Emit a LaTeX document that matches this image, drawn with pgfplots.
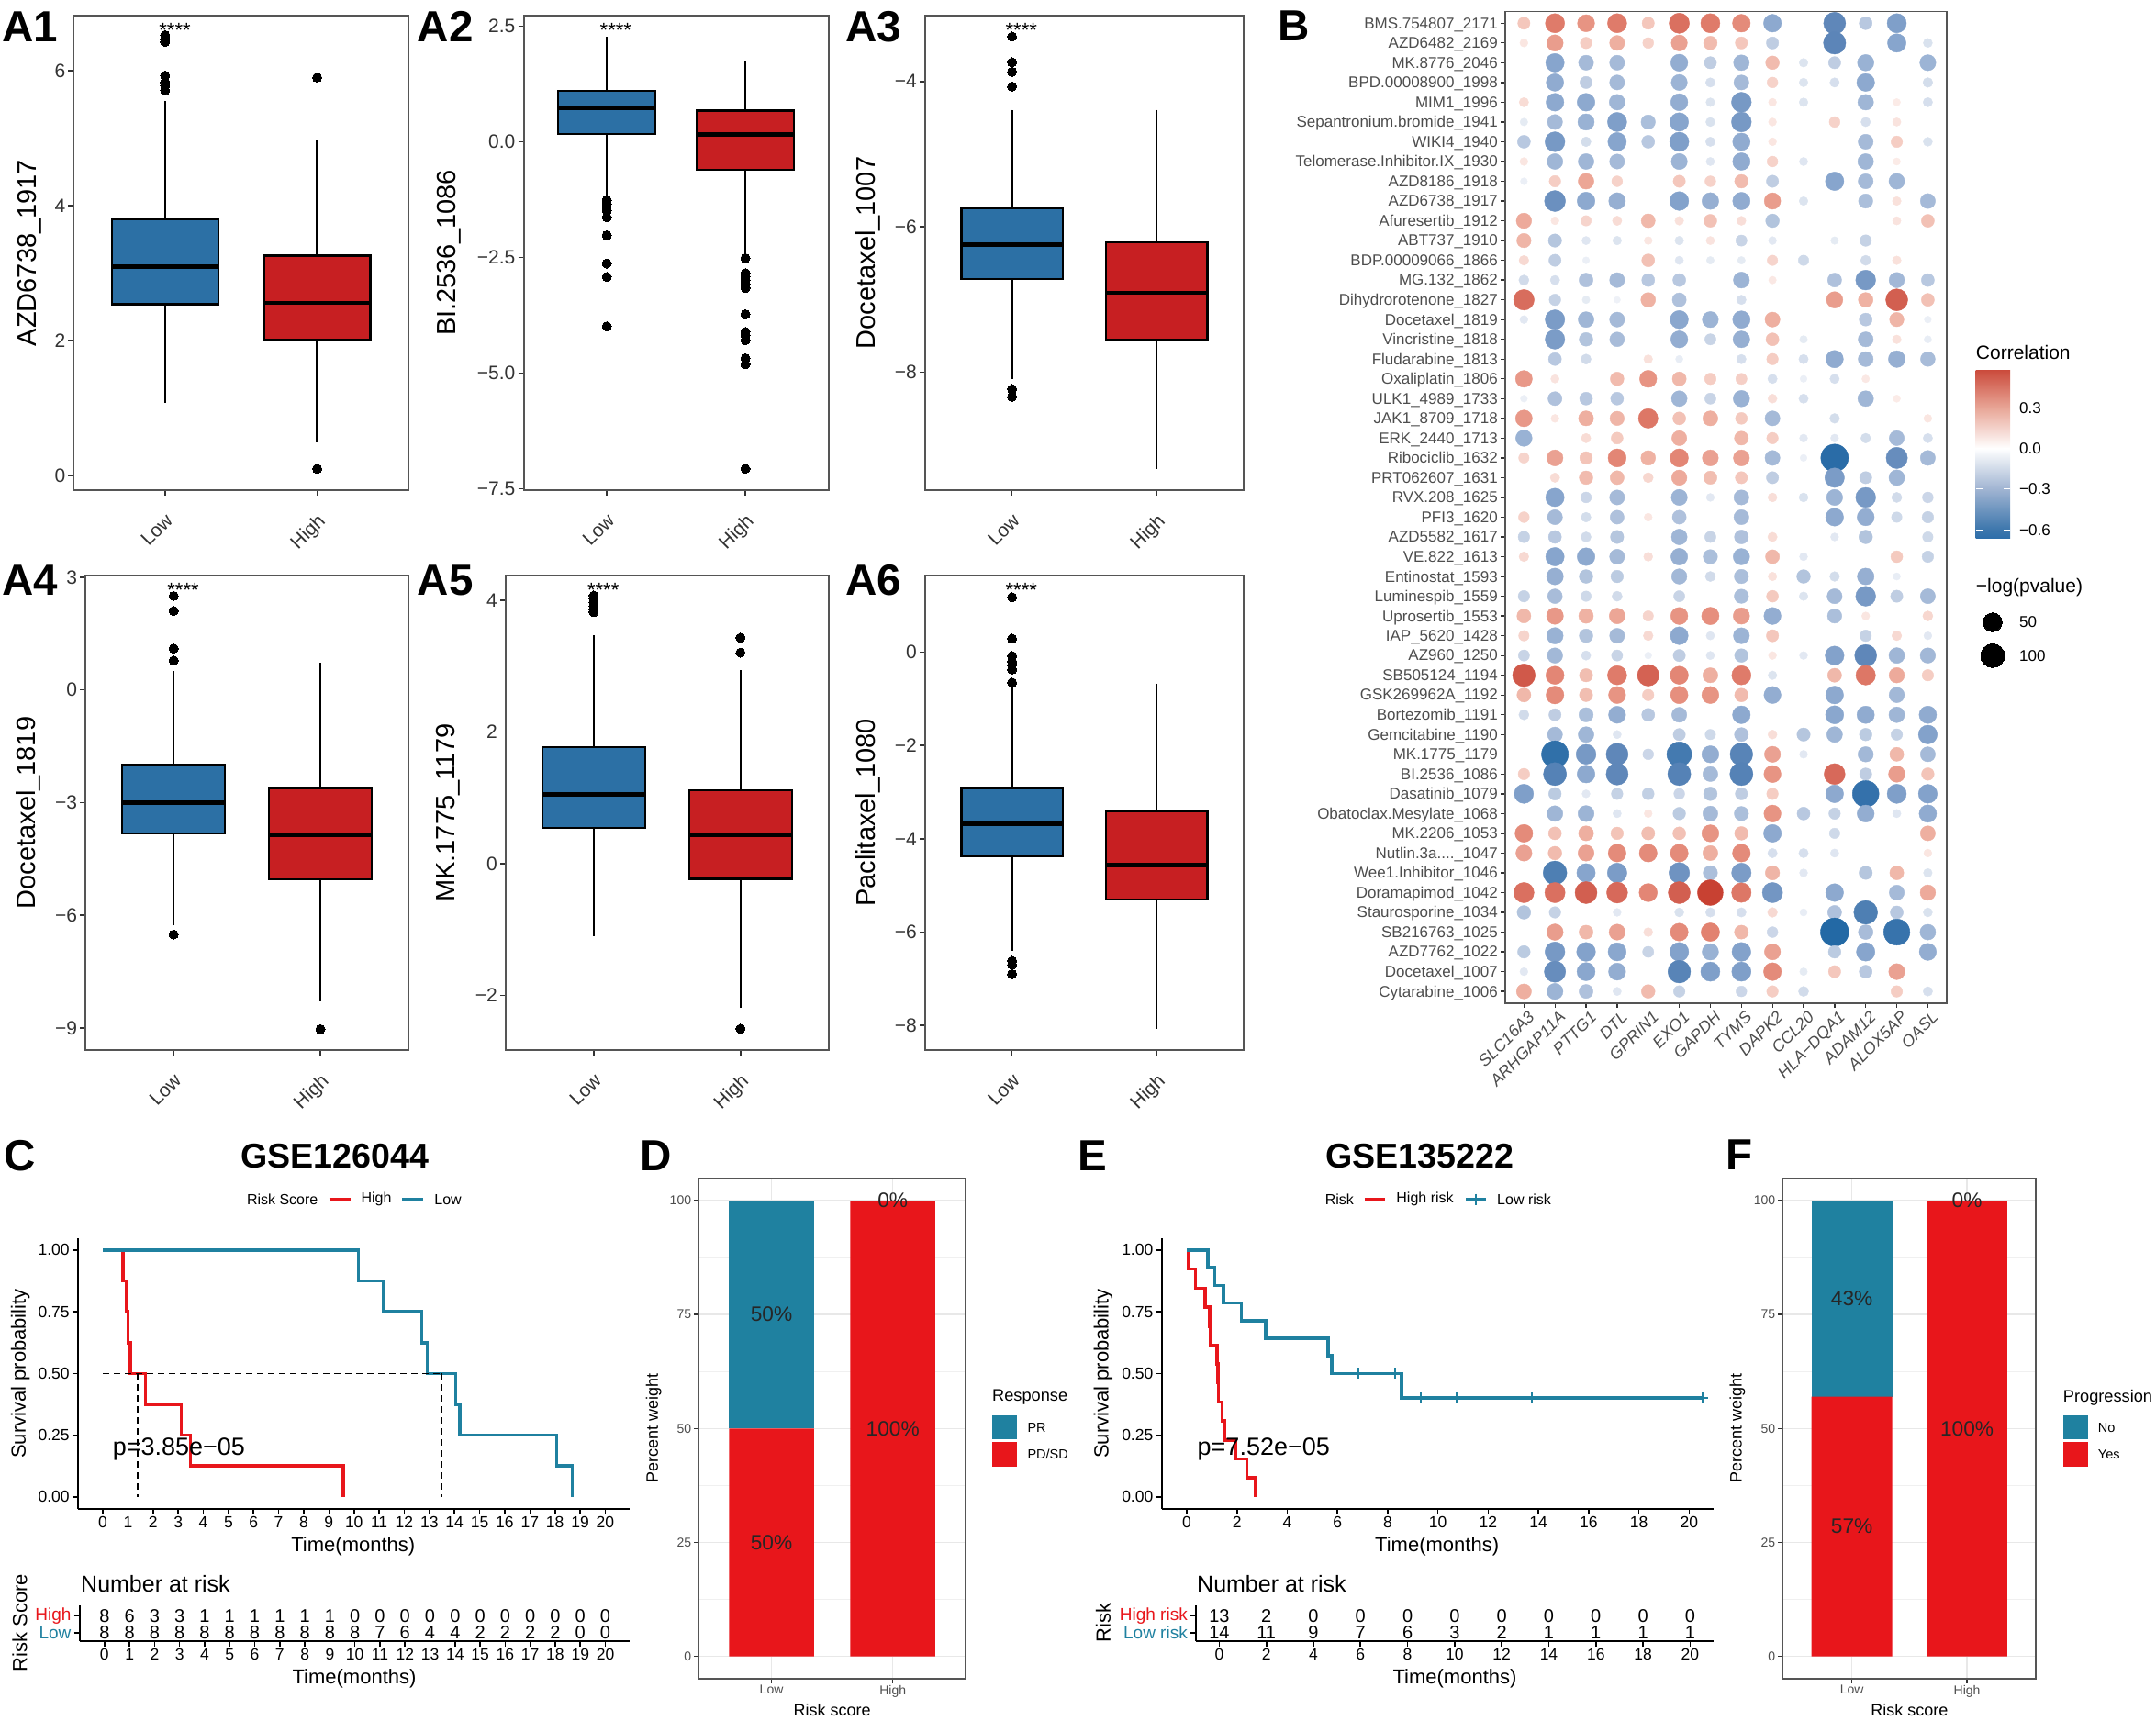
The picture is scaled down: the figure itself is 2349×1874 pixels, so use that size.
\documentclass[border=0pt]{standalone}
\usepackage{fontspec}
\setmainfont{Liberation Sans}
\usepackage{pgfplots}
\usepackage{pgfplotstable}
\pgfplotsset{compat=1.18}
\usepgfplotslibrary{statistics}

% 1 reference pixel = 1pt
\newcommand{\fs}[1]{\fontsize{#1}{#1}\selectfont}
\definecolor{boxblue}{HTML}{2C70A5}
\definecolor{boxred}{HTML}{C71F22}
\definecolor{kmred}{HTML}{E8161B}
\definecolor{kmteal}{HTML}{1F81A0}
\definecolor{c3}{HTML}{333333}
\definecolor{c4}{HTML}{4D4D4D}
\definecolor{frameg}{HTML}{555555}
\definecolor{sb0}{RGB}{45,110,170}
\definecolor{sb1}{RGB}{60,118,172}
\definecolor{sb2}{RGB}{160,180,210}
\definecolor{sb3}{RGB}{232,165,150}
\definecolor{sb4}{RGB}{203,75,60}
% \shade shows only 25bp to 75bp of the declared range
\pgfdeclareverticalshading{corrbar}{100bp}{color(0bp)=(sb0); color(25bp)=(sb0); color(27.6bp)=(sb1); color(39.65bp)=(sb2); color(51.75bp)=(white); color(63.85bp)=(sb3); color(75bp)=(sb4); color(100bp)=(sb4)}

\tikzset{barpct/.style={font=\fs{22.7}, text=black!85}}
\pgfplotsset{
  boxax/.style={scale only axis, anchor=south west, xmin=0.4, xmax=2.6,
    xtick={1,2}, xticklabels={Low,High}, clip=false,
    xticklabel style={rotate=45, anchor=north east, font=\fs{21}, text=c3, inner sep=2pt, xshift=-11.4pt, yshift=-10.25pt},
    yticklabel style={font=\fs{21}, text=c3, inner sep=3pt},
    tick align=outside, major tick length=6pt, tick style={c3, line width=1.6pt},
    xtick pos=bottom, ytick pos=left,
    axis line style={frameg, line width=2pt},
    ylabel style={font=\fs{29}, anchor=center}},
  kmax/.style={scale only axis, anchor=south west, axis x line=bottom, axis y line=left,
    axis line style={-, line width=2pt}, tick align=outside, major tick length=6pt,
    tick style={black, line width=1.6pt}, clip=false,
    xticklabel style={font=\fs{17.5}, inner sep=2pt},
    yticklabel style={font=\fs{17.5}, inner sep=3pt},
    xlabel style={font=\fs{22}, anchor=center},
    ylabel style={font=\fs{22}, anchor=center}},
  kmline/.style={line width=3.6pt, const plot, mark=none, #1},
  kmdash/.style={black, line width=1.7pt, dash pattern=on 7pt off 5pt},
  riskn/.style={draw=none, mark=none, point meta=explicit symbolic, nodes near coords,
    every node near coord/.style={font=\fs{20}, anchor=center, inner sep=0pt}},
  barax/.style={scale only axis, anchor=south west, ybar stacked, bar width=0.7,
    xmin=0.4, xmax=2.6, ymin=-4.87, ymax=104.87, xtick={1,2}, xticklabels={Low,High},
    ytick={0,25,50,75,100}, yticklabels={0,25,50,75,100},
    minor ytick={12.5,37.5,62.5,87.5}, grid=both,
    major grid style={gray!18, line width=1.4pt}, minor grid style={gray!12, line width=0.8pt},
    tick align=outside, major tick length=5pt, tick style={c3, line width=1.4pt},
    minor tick length=0pt, xtick pos=bottom, ytick pos=left,
    axis line style={frameg, line width=1.8pt}, clip=false,
    xticklabel style={font=\fs{14}, text=c4, inner sep=2pt},
    yticklabel style={font=\fs{14}, text=c4, inner sep=3pt},
    xlabel style={font=\fs{18}, anchor=center},
    ylabel style={font=\fs{18}, anchor=center}},
  % same limits as the bars, holds the percent texts above them
  barlabels/.style={scale only axis, anchor=south west, hide axis, clip=false,
    xmin=0.4, xmax=2.6, ymin=-4.87, ymax=104.87},
  boxst/.style n args={6}{boxplot prepared={draw direction=y, draw position=#1, lower whisker=#2, lower quartile=#3,
      median=#4, upper quartile=#5, upper whisker=#6, box extend=0.7, whisker extend=0,
      every median/.style={line width=4.6pt}},
    solid, draw=black, line width=2.2pt,
    mark=*, mark size=5pt, mark options={fill=black, draw=black, line width=0pt}}
}

% position, colour, lower whisker, q1, median, q3, upper whisker, outliers
\newcommand{\bx}[8]{%
  \addplot[boxst={#1}{#3}{#4}{#5}{#6}{#7}, fill=#2]
    table[row sep=\\, header=false, y index=0] {#8};}
% same, no outliers
\newcommand{\bxn}[7]{%
  \addplot[boxst={#1}{#3}{#4}{#5}{#6}{#7}, fill=#2] coordinates {};}
\newcommand{\stars}{\node[anchor=base, inner sep=0pt, font=\fs{22}] at (rel axis cs:0.302,0.9545) {****};}
\newcommand{\plab}[3]{\node[inner sep=0pt, anchor=base west, font=\fs{47.5}\bfseries] at (#1pt,-#2pt) {#3};}
\newcommand{\tx}[4][]{\node[inner sep=0pt, anchor=west, #1] at (#2pt,-#3pt) {#4};}

% correlation of drug (row) and gene (column), 0 = no dot
\pgfplotstableread{
c1 c2 c3 c4 c5 c6 c7 c8 c9 c10 c11 c12 c13 c14
.22 .42 .36 .42 .22 .45 .42 .38 -.38 0 -.50 -.24 -.42 0
.10 .34 .20 .30 .18 .33 .26 .22 -.22 0 -.51 0 -.40 -.13
0 -.40 -.30 -.30 0 -.36 -.22 -.32 .26 -.12 -.22 -.34 0 -.33
0 -.37 -.22 -.30 0 -.33 -.14 -.30 .18 -.12 -.14 -.38 0 -.15
.14 -.38 -.38 -.32 0 -.36 -.12 -.44 .10 -.12 0 -.32 .08 -.14
-.09 -.30 -.34 -.42 -.28 -.40 -.13 -.44 .10 0 .18 -.14 .11 0
-.24 -.44 -.15 -.40 -.24 -.42 -.14 -.37 .10 0 0 -.30 .20 -.13
.10 -.32 -.32 -.30 0 -.33 -.11 -.37 .18 -.11 0 -.32 .08 0
-.07 .20 .32 .18 0 .22 .18 .26 -.22 0 -.40 -.30 -.32 0
0 -.47 -.38 -.35 0 -.41 -.35 -.37 .34 -.12 0 -.28 .12 -.30
.31 .10 .17 .14 .27 .12 .24 .13 -.26 0 0 0 .11 .24
.28 -.25 -.11 -.12 .10 -.12 .11 -.19 -.10 0 -.09 -.20 0 0
.15 -.22 -.07 0 .24 -.11 -.09 -.09 .17 -.17 0 -.16 .12 0
-.16 -.14 -.27 -.30 -.24 -.24 0 -.33 .09 0 -.27 -.44 -.31 -.24
.46 -.20 -.09 -.06 .29 -.27 0 -.14 0 0 .34 .29 .50 .24
-.10 -.43 -.32 -.30 0 -.39 -.33 -.37 .30 0 0 -.24 .28 -.07
0 -.43 -.26 -.29 0 -.36 -.19 -.35 .24 -.09 0 -.30 .12 -.08
0 -.24 -.16 0 .12 -.08 0 -.14 .20 -.14 -.37 -.30 -.35 -.29
.35 .11 0 .26 .36 .27 .20 .19 -.14 -.07 -.14 .09 0 0
-.07 -.27 -.24 -.24 0 -.32 -.19 -.34 .13 -.14 0 -.32 .08 0
.35 .10 .30 .28 .43 .24 .30 .21 -.30 0 -.15 0 0 .10
-.34 0 .14 .21 0 .30 0 .27 .20 -.10 -.10 -.15 -.30 -.14
.17 .33 .23 .39 .29 .39 .33 .33 -.30 -.07 -.66 0 -.48 -.30
0 .14 .26 .27 .16 .31 .25 .22 -.22 0 -.43 -.22 -.32 0
0 -.40 -.18 -.30 0 -.33 -.10 -.30 .13 -.13 -.33 -.44 -.16 -.18
.18 -.30 -.15 -.27 .10 -.27 0 -.30 0 0 -.38 -.36 -.17 -.20
-.20 -.24 -.16 -.25 0 -.32 -.19 -.27 .14 0 -.10 -.26 0 -.17
.15 -.40 -.38 -.30 .13 -.35 -.28 -.34 .27 -.10 0 0 .21 -.20
0 -.35 -.26 -.23 0 -.31 -.16 -.28 .12 -.26 -.15 -.35 -.08 0
-.20 -.29 -.17 -.16 0 -.19 0 -.28 .21 -.12 -.30 -.44 -.22 -.30
.27 .35 .29 .32 .17 .36 .37 .34 -.36 0 -.28 .10 0 .16
.17 -.34 -.26 -.30 .15 -.38 -.11 -.33 .22 0 0 -.20 .15 -.10
-.19 -.31 -.14 -.19 -.07 -.22 -.11 -.26 .10 -.10 -.41 -.50 -.32 -.31
.52 .39 .25 .42 .49 .39 .30 .42 -.12 0 .27 .43 .31 .20
.27 .38 .25 .36 .20 .37 .36 .26 -.36 0 -.38 0 -.31 0
-.16 -.22 -.28 -.36 -.24 -.30 0 -.38 0 0 -.39 -.37 -.32 -.37
0 -.30 -.32 -.11 0 -.22 -.17 -.27 .13 -.25 -.32 -.23 -.20 -.41
0 -.64 -.44 -.50 -.18 -.58 -.36 -.52 .33 -.10 0 -.31 .27 -.30
.20 -.53 -.38 -.50 0 -.53 -.30 -.53 .36 0 .47 -.22 .34 .23
-.42 -.23 -.10 -.20 -.21 -.18 -.26 -.22 .20 0 -.38 -.63 -.42 -.41
0 -.32 -.33 -.11 .10 -.23 -.30 -.28 .36 -.24 -.20 -.36 -.11 -.37
.38 .24 .30 .23 .25 .24 .36 .26 -.38 0 -.17 0 0 .30
.33 .26 .33 .38 .38 .38 .30 .38 -.14 -.14 -.11 0 0 .10
0 -.55 -.40 -.43 0 -.46 -.28 -.43 .28 -.10 0 -.25 .27 -.12
.45 .45 .50 .47 .39 .50 .60 .43 -.45 0 -.38 0 -.30 .31
-.26 -.20 0 -.10 0 -.13 -.14 -.14 .15 -.08 -.27 -.55 -.24 -.13
0 .34 .27 .33 .13 .38 .40 .27 -.18 0 -.68 -.29 -.62 -.32
-.23 -.44 -.41 -.39 -.19 -.41 -.34 -.41 .33 0 -.23 -.40 0 -.36
-.10 -.48 -.39 -.36 0 -.52 -.42 -.42 .38 -.09 .22 -.24 .33 0
.30 -.33 -.27 -.11 .26 -.20 0 -.18 .20 -.16 0 0 .20 -.14
}\corr

\begin{document}
\begin{tikzpicture}
\useasboundingbox (0,0) rectangle (2349pt,-1874pt);

% ---- A1 to A6
\begin{axis}[boxax, at={(80.4pt,-533.9pt)}, width=364.6pt, height=516.7pt,
    ymin=-0.216, ymax=6.817, ytick={0,2,4,6}, yticklabels={0,2,4,6},
    ylabel={AZD6738\_1917}, ylabel style={at={(axis description cs:-0.131,0.5)}}]
  \bx{1}{boxblue}{1.08}{2.54}{3.10}{3.80}{5.56}{6.53\\6.47\\6.43\\5.93\\5.83\\5.78\\5.71\\}
  \bx{2}{boxred}{0.49}{2.02}{2.56}{3.26}{4.97}{5.90\\0.10\\}
  \stars
\end{axis}
\begin{axis}[boxax, at={(570.5pt,-533.9pt)}, width=332.2pt, height=516.7pt,
    ymin=-7.53, ymax=2.728, ytick={-7.5,-5,-2.5,0,2.5}, yticklabels={−7.5,−5.0,−2.5,0.0,2.5},
    ylabel={BI.2536\_1086}, ylabel style={at={(axis description cs:-0.246,0.5)}}]
  \bx{1}{boxblue}{-1.185}{0.167}{0.737}{1.11}{2.27}{-1.26\\-1.34\\-1.41\\-1.49\\-1.63\\-2.02\\-2.63\\-2.92\\-3.99\\}
  \bx{2}{boxred}{-2.48}{-0.61}{0.16}{0.676}{1.73}{-2.515\\-2.84\\-2.92\\-2.99\\-3.07\\-3.16\\-3.73\\-4.11\\-4.19\\-4.29\\-4.68\\-4.81\\-7.07\\}
  \stars
\end{axis}
\begin{axis}[boxax, at={(1008pt,-533.9pt)}, width=347pt, height=516.7pt,
    ymin=-9.625, ymax=-3.096, ytick={-8,-6,-4}, yticklabels={−8,−6,−4},
    ylabel={Docetaxel\_1007}, ylabel style={at={(axis description cs:-0.178,0.5)}}]
  \bx{1}{boxblue}{-8.10}{-6.716}{-6.247}{-5.74}{-4.39}{-3.383\\-3.737\\-3.867\\-4.07\\-8.235\\-8.34\\}
  \bxn{2}{boxred}{-9.33}{-7.55}{-6.91}{-6.21}{-4.39}
  \stars
\end{axis}
\begin{axis}[boxax, at={(93.3pt,-1143.8pt)}, width=351.7pt, height=516.6pt,
    ymin=-9.58, ymax=3.04, ytick={-9,-6,-3,0,3}, yticklabels={−9,−6,−3,0,3},
    ylabel={Docetaxel\_1819}, ylabel style={at={(axis description cs:-0.178,0.5)}}]
  \bx{1}{boxblue}{-6.27}{-3.82}{-3.0}{-2.0}{0.496}{2.50\\2.10\\1.10\\0.78\\-6.51\\}
  \bx{2}{boxred}{-8.28}{-5.05}{-3.86}{-2.61}{0.73}{-9.03\\}
  \stars
\end{axis}
\begin{axis}[boxax, at={(551pt,-1143.8pt)}, width=351.7pt, height=516.6pt,
    ymin=-2.827, ymax=4.373, ytick={-2,0,2,4}, yticklabels={−2,0,2,4},
    ylabel={MK.1775\_1179}, ylabel style={at={(axis description cs:-0.177,0.5)}}]
  \bx{1}{boxblue}{-1.10}{0.539}{1.056}{1.765}{3.47}{4.07\\4.02\\3.97\\3.91\\3.86\\3.82\\}
  \bx{2}{boxred}{-2.19}{-0.229}{0.437}{1.115}{2.94}{3.43\\3.205\\-2.507\\}
  \stars
\end{axis}
\begin{axis}[boxax, at={(1008pt,-1143.8pt)}, width=347pt, height=516.6pt,
    ymin=-8.527, ymax=1.642, ytick={-8,-6,-4,-2,0}, yticklabels={−8,−6,−4,−2,0},
    ylabel={Paclitaxel\_1080}, ylabel style={at={(axis description cs:-0.178,0.5)}}]
  \bx{1}{boxblue}{-6.40}{-4.38}{-3.68}{-2.91}{-0.72}{1.18\\0.29\\-0.08\\-0.2\\-0.27\\-0.37\\-0.65\\-6.62\\-6.70\\-6.90\\}
  \bxn{2}{boxred}{-8.07}{-5.30}{-4.56}{-3.41}{-0.667}
  \stars
\end{axis}
\plab{2}{45}{A1}\plab{454.5}{45}{A2}\plab{921}{45}{A3}
\plab{2}{648}{A4}\plab{454.5}{648}{A5}\plab{921}{648}{A6}

% ---- B
\begin{axis}[scale only axis, anchor=south west, at={(1640pt,-1092.8pt)}, width=480.7pt, height=1080.2pt,
    xmin=0.4, xmax=14.6, ymin=0.41, ymax=50.59, y dir=reverse, clip=false,
    xtick={1,...,14}, ytick={1,...,50},
    xticklabels={SLC16A3,ARHGAP11A,PTTG1,DTL,GPRIN1,EXO1,GAPDH,TYMS,DAPK2,CCL20,HLA−DQA1,ADAM12,ALOX5AP,OASL},
    yticklabels={BMS.754807\_2171,AZD6482\_2169,MK.8776\_2046,BPD.00008900\_1998,MIM1\_1996,Sepantronium.bromide\_1941,WIKI4\_1940,Telomerase.Inhibitor.IX\_1930,AZD8186\_1918,AZD6738\_1917,Afuresertib\_1912,ABT737\_1910,BDP.00009066\_1866,MG.132\_1862,Dihydrorotenone\_1827,Docetaxel\_1819,Vincristine\_1818,Fludarabine\_1813,Oxaliplatin\_1806,ULK1\_4989\_1733,JAK1\_8709\_1718,ERK\_2440\_1713,Ribociclib\_1632,PRT062607\_1631,RVX.208\_1625,PFI3\_1620,AZD5582\_1617,VE.822\_1613,Entinostat\_1593,Luminespib\_1559,Uprosertib\_1553,IAP\_5620\_1428,AZ960\_1250,SB505124\_1194,GSK269962A\_1192,Bortezomib\_1191,Gemcitabine\_1190,MK.1775\_1179,BI.2536\_1086,Dasatinib\_1079,Obatoclax.Mesylate\_1068,MK.2206\_1053,Nutlin.3a{.}{.}{.}{.}\_1047,Wee1.Inhibitor\_1046,Doramapimod\_1042,Staurosporine\_1034,SB216763\_1025,AZD7762\_1022,Docetaxel\_1007,Cytarabine\_1006},
    xticklabel style={rotate=45, anchor=north east, font=\fs{18}\itshape, text=c4, inner sep=2pt, xshift=2.8pt, yshift=-2.1pt},
    yticklabel style={font=\fs{17}, text=c4, inner sep=3pt, yshift=-1.5pt},
    tick align=outside, major tick length=5pt, tick style={c3, line width=1.3pt},
    xtick pos=bottom, ytick pos=left,
    axis line style={frameg, line width=1.6pt},
    colormap={corr}{rgb255(0)=(35,105,165); rgb255(180)=(95,135,185); rgb255(280)=(135,165,205); rgb255(380)=(165,186,216); rgb255(480)=(197,210,229); rgb255(680)=(255,255,255); rgb255(880)=(245,205,195); rgb255(980)=(238,175,160); rgb255(1080)=(226,130,112); rgb255(1180)=(210,95,80); rgb255(1280)=(200,65,50)},
    point meta min=-0.68, point meta max=0.6]
  \pgfplotsinvokeforeach{1,...,14}{
    \addplot[scatter, only marks, mark=*, scatter src=explicit,
      scatter/use mapped color={draw=mapped color, fill=mapped color},
      visualization depends on={(5+38*abs(\thisrow{c#1}))/2 \as \rr},
      scatter/@pre marker code/.append style={/tikz/mark size=\rr}]
      table[x expr=#1, y expr={\thisrow{c#1}==0 ? nan : \coordindex+1}, meta=c#1] {\corr};
  }
\end{axis}
\plab{1392}{44}{B}
\tx[font=\fs{21}]{2152.7}{384}{Correlation}
\shade[shading=corrbar] (2152.7pt,-586.7pt) rectangle (2190pt,-403.3pt);
\begin{axis}[scale only axis, anchor=south west, at={(2152.7pt,-586.7pt)}, width=37.3pt, height=183.4pt,
    xmin=0, xmax=1, ymin=-0.664, ymax=0.577, xtick=\empty,
    ytick={-0.6,-0.3,0,0.3}, yticklabels={−0.6,−0.3,0.0,0.3},
    yticklabel pos=right, ytick pos=both,
    yticklabel style={font=\fs{17}, text=black, inner sep=0pt, xshift=10pt},
    tick align=inside, major tick length=7pt, tick style={white, line width=1pt},
    axis line style={draw=none}]
\end{axis}
\tx[font=\fs{21}]{2152.7}{640}{−log(pvalue)}
\begin{axis}[hide axis, scale only axis, anchor=south west, at={(2151pt,-730pt)}, width=40pt, height=70pt,
    xmin=0, xmax=40, ymin=0, ymax=70, clip=false]
  \addplot[only marks, mark=*, mark size=10.3pt, mark options={fill=black, draw=black, line width=0pt}] coordinates {(20,52)};
  \addplot[only marks, mark=*, mark size=13pt, mark options={fill=black, draw=black, line width=0pt}] coordinates {(20,15.7)};
\end{axis}
\tx[font=\fs{17}]{2200}{678}{50}
\tx[font=\fs{17}]{2200}{714.3}{100}

% ---- C
\begin{axis}[kmax, at={(84.8pt,-1644pt)}, width=601.2pt, height=295pt,
    xmin=-0.994, xmax=20.97, ymin=-0.049, ymax=1.048,
    xtick={0,...,20}, xticklabels={0,1,2,3,4,5,6,7,8,9,10,11,12,13,14,15,16,17,18,19,20},
    ytick={0,0.25,0.5,0.75,1}, yticklabels={0.00,0.25,0.50,0.75,1.00},
    xlabel={Time(months)}, ylabel={Survival probability},
    xlabel style={at={(axis description cs:0.499,-0.137)}},
    ylabel style={at={(axis description cs:-0.104,0.5)}}]
  \addplot[kmline={kmred}] coordinates {(0,1)(0.8,0.875)(0.96,0.75)(1,0.625)(1.09,0.5)(1.7,0.375)(3.12,0.25)(3.49,0.125)(9.58,0)};
  \addplot[kmline={kmteal}] coordinates {(0,1)(10.17,0.875)(11.17,0.75)(12.7,0.625)(12.92,0.5)(14.05,0.375)(14.22,0.25)(18.06,0.125)(18.68,0)};
  \addplot[kmdash] coordinates {(0,0.5)(13.5,0.5)};
  \addplot[kmdash] coordinates {(1.4,0.5)(1.4,0)};
  \addplot[kmdash] coordinates {(13.5,0.5)(13.5,0)};
  \node[anchor=west, inner sep=0pt, font=\fs{27}] at (axis cs:0.39,0.195) {p=3.85e−05};
\end{axis}
\begin{axis}[kmax, at={(86.6pt,-1788pt)}, width=599.4pt, height=38.6pt,
    xmin=-0.998, xmax=20.97, ymin=0.486, ymax=2.62,
    xtick={0,...,20}, xticklabels={0,1,2,3,4,5,6,7,8,9,10,11,12,13,14,15,16,17,18,19,20},
    ytick={1,2}, yticklabels={\textcolor{kmteal}{Low},\textcolor{kmred}{High}},
    yticklabel style={font=\fs{19}},
    xlabel={Time(months)}, ylabel={Risk Score},
    xlabel style={at={(axis description cs:0.4995,-1.05)}},
    ylabel style={at={(axis description cs:-0.1088,0.518)}}]
  \addplot[riskn] coordinates {(0,2)[8](1,2)[6](2,2)[3](3,2)[3](4,2)[1](5,2)[1](6,2)[1](7,2)[1](8,2)[1](9,2)[1](10,2)[0](11,2)[0](12,2)[0](13,2)[0](14,2)[0](15,2)[0](16,2)[0](17,2)[0](18,2)[0](19,2)[0](20,2)[0]};
  \addplot[riskn] coordinates {(0,1)[8](1,1)[8](2,1)[8](3,1)[8](4,1)[8](5,1)[8](6,1)[8](7,1)[8](8,1)[8](9,1)[8](10,1)[8](11,1)[7](12,1)[6](13,1)[4](14,1)[4](15,1)[2](16,1)[2](17,1)[2](18,1)[2](19,1)[0](20,1)[0]};
\end{axis}
\plab{4.5}{1275}{C}
\node[font=\fs{37.6}\bfseries, inner sep=0pt] at (365pt,-1260pt) {GSE126044};
\tx[font=\fs{16}]{268.8}{1306.6}{Risk Score}
\draw[kmred, line width=3.6pt] (358.5pt,-1306.6pt) -- (381.7pt,-1306.6pt);
\tx[font=\fs{16}]{393.3}{1306.6}{High}
\draw[kmteal, line width=3.6pt] (438pt,-1306.6pt) -- (461pt,-1306.6pt);
\tx[font=\fs{16}]{473.2}{1306.6}{Low}
\tx[font=\fs{25}]{88}{1725.4}{Number at risk}

% ---- D
\begin{axis}[barax, at={(761.3pt,-1828.8pt)}, width=290.7pt, height=545pt,
    xlabel={Risk score}, ylabel={Percent weight},
    xlabel style={at={(axis description cs:0.5,-0.0635)}},
    ylabel style={at={(axis description cs:-0.169,0.5)}}]
  \addplot[draw=none, fill=kmred] coordinates {(1,50)(2,100)};
  \addplot[draw=none, fill=kmteal] coordinates {(1,50)(2,0)};
\end{axis}
\begin{axis}[barlabels, at={(761.3pt,-1828.8pt)}, width=290.7pt, height=545pt]
  \node[barpct] at (axis cs:1,75) {50\%};
  \node[barpct] at (axis cs:1,25) {50\%};
  \node[barpct] at (axis cs:2,50) {100\%};
  \node[barpct] at (axis cs:2,100) {0\%};
\end{axis}
\plab{697}{1275}{D}
\tx[font=\fs{18.2}]{1081}{1522.3}{Response}
\fill[kmteal] (1081.3pt,-1542pt) rectangle (1108pt,-1568pt);
\fill[kmred] (1081.3pt,-1571pt) rectangle (1108pt,-1597.8pt);
\tx[font=\fs{14.5}]{1119.3}{1555.3}{PR}
\tx[font=\fs{14.5}]{1119.3}{1584.5}{PD/SD}

% ---- E
\begin{axis}[kmax, at={(1265.5pt,-1644pt)}, width=601.5pt, height=295pt,
    xmin=-1.005, xmax=20.976, ymin=-0.049, ymax=1.048,
    xtick={0,2,...,20}, xticklabels={0,2,4,6,8,10,12,14,16,18,20},
    ytick={0,0.25,0.5,0.75,1}, yticklabels={0.00,0.25,0.50,0.75,1.00},
    xlabel={Time(months)}, ylabel={Survival probability},
    xlabel style={at={(axis description cs:0.499,-0.137)}},
    ylabel style={at={(axis description cs:-0.1056,0.5)}}]
  \addplot[kmline={kmred}] coordinates {(0,1)(0.07,0.923)(0.34,0.846)(0.74,0.769)(0.91,0.692)(0.96,0.615)(1.21,0.538)(1.24,0.462)(1.26,0.385)(1.41,0.308)(1.49,0.231)(1.96,0.154)(2.4,0.077)(2.73,0)};
  \addplot[kmline={kmteal}] coordinates {(0,1)(0.84,0.929)(1.12,0.857)(1.46,0.786)(2.18,0.714)(3.15,0.643)(5.62,0.571)(5.77,0.5)(8.56,0.4)(20.59,0.4)};
  \addplot[only marks, kmteal, mark=+, mark size=6pt, mark options={line width=2pt}] coordinates {(6.83,0.5)(8.3,0.5)(9.3,0.4)(10.75,0.4)(13.74,0.4)(20.55,0.4)};
  \node[anchor=west, inner sep=0pt, font=\fs{27}] at (axis cs:0.42,0.195) {p=7.52e−05};
\end{axis}
\begin{axis}[kmax, at={(1303pt,-1788pt)}, width=564pt, height=38.6pt,
    xmin=-0.99, xmax=21, ymin=0.486, ymax=2.62,
    xtick={0,2,...,20}, xticklabels={0,2,4,6,8,10,12,14,16,18,20},
    ytick={1,2}, yticklabels={\textcolor{kmteal}{Low risk},\textcolor{kmred}{High risk}},
    yticklabel style={font=\fs{19}},
    xlabel={Time(months)}, ylabel={Risk},
    xlabel style={at={(axis description cs:0.5,-1.05)}},
    ylabel style={at={(axis description cs:-0.179,0.518)}}]
  \addplot[riskn] coordinates {(0,2)[13](2,2)[2](4,2)[0](6,2)[0](8,2)[0](10,2)[0](12,2)[0](14,2)[0](16,2)[0](18,2)[0](20,2)[0]};
  \addplot[riskn] coordinates {(0,1)[14](2,1)[11](4,1)[9](6,1)[7](8,1)[6](10,1)[3](12,1)[2](14,1)[1](16,1)[1](18,1)[1](20,1)[1]};
\end{axis}
\plab{1174.6}{1275}{E}
\node[font=\fs{37.6}\bfseries, inner sep=0pt] at (1546.5pt,-1260pt) {GSE135222};
\tx[font=\fs{16}]{1443.6}{1306.6}{Risk}
\draw[kmred, line width=3.6pt] (1486.8pt,-1306.6pt) -- (1508.8pt,-1306.6pt);
\tx[font=\fs{16}]{1521.2}{1306.6}{High risk}
\draw[kmteal, line width=3.6pt] (1597pt,-1306.6pt) -- (1619pt,-1306.6pt);
\draw[kmteal, line width=2pt] (1608pt,-1300.6pt) -- (1608pt,-1312.6pt);
\tx[font=\fs{16}]{1631}{1306.6}{Low risk}
\tx[font=\fs{25}]{1304}{1725.4}{Number at risk}

% ---- F
\begin{axis}[barax, at={(1942.3pt,-1828.8pt)}, width=276pt, height=545pt,
    xlabel={Risk score}, ylabel={Percent weight},
    xlabel style={at={(axis description cs:0.5,-0.0635)}},
    ylabel style={at={(axis description cs:-0.1785,0.5)}}]
  \addplot[draw=none, fill=kmred] coordinates {(1,57)(2,100)};
  \addplot[draw=none, fill=kmteal] coordinates {(1,43)(2,0)};
\end{axis}
\begin{axis}[barlabels, at={(1942.3pt,-1828.8pt)}, width=276pt, height=545pt]
  \node[barpct] at (axis cs:1,78.6) {43\%};
  \node[barpct] at (axis cs:1,28.5) {57\%};
  \node[barpct] at (axis cs:2,50) {100\%};
  \node[barpct] at (axis cs:2,100) {0\%};
\end{axis}
\plab{1880.6}{1274}{F}
\tx[font=\fs{18.2}]{2247.7}{1522.3}{Progression}
\fill[kmteal] (2247.7pt,-1542pt) rectangle (2275pt,-1568pt);
\fill[kmred] (2247.7pt,-1571pt) rectangle (2275pt,-1597.8pt);
\tx[font=\fs{14.5}]{2285.7}{1555.3}{No}
\tx[font=\fs{14.5}]{2285.7}{1584.5}{Yes}
\end{tikzpicture}
\end{document}
